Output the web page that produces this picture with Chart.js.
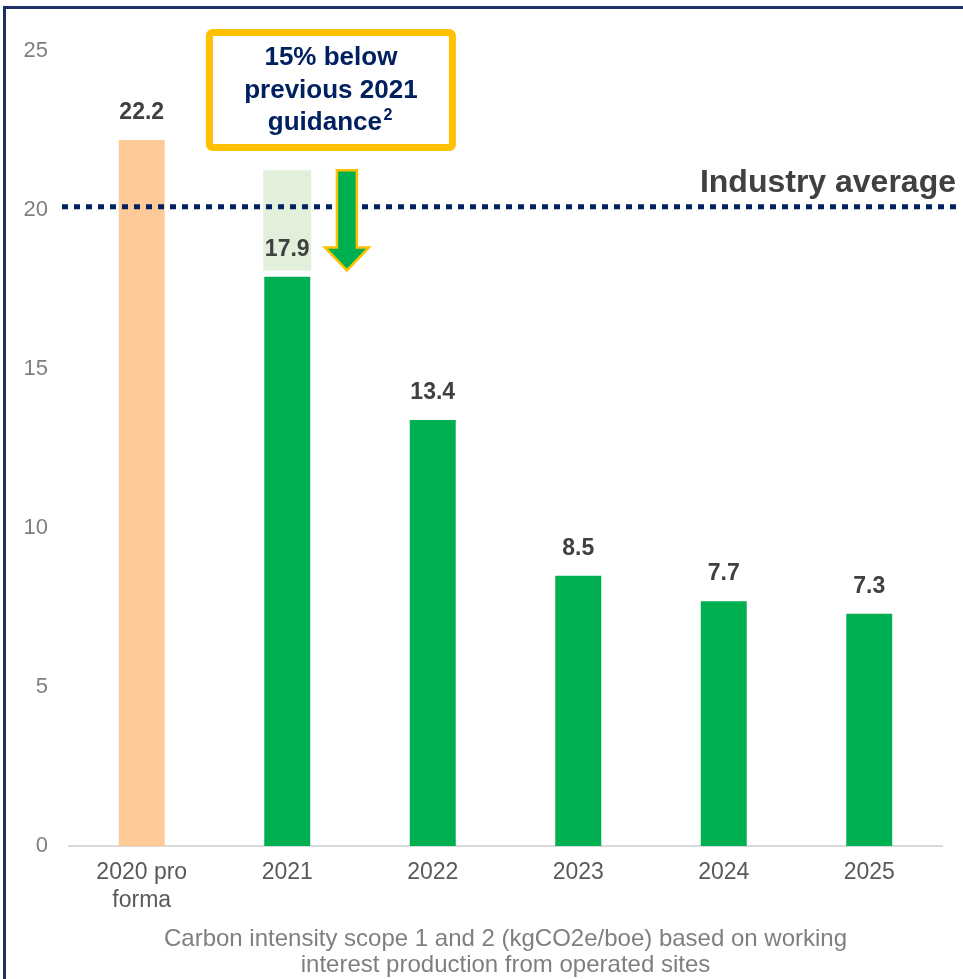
<!DOCTYPE html>
<html>
<head>
<meta charset="utf-8">
<script src="https://cdn.jsdelivr.net/npm/chart.js@4/dist/chart.umd.min.js"></script>
<style>
  body { margin: 0; background: #fff; overflow: hidden; }
  #wrap { position: relative; width: 963px; height: 979px; }
  #frame { position: absolute; left: 3px; top: 6px; width: 2000px; height: 2000px;
           border-top: 3px solid #1c2f66; border-left: 3px solid #1c2f66; pointer-events: none; }
</style>
</head>
<body>
<div id="wrap">
  <canvas id="myChart" width="963" height="979"></canvas>
  <div id="frame"></div>
</div>
<script>
var categories = [['2020 pro', 'forma'], '2021', '2022', '2023', '2024', '2025'];
var intensity = [22.2, 17.9, 13.4, 8.5, 7.7, 7.3];
var barColors = ['#fecb98', '#00b050', '#00b050', '#00b050', '#00b050', '#00b050'];
var previousGuidance = [null, [18.1, 21.25], null, null, null, null];
var industryAverage = 20.1;
var yTicks = [0, 5, 10, 15, 20, 25];
var calloutLines = ['15% below', 'previous 2021', 'guidance'];
var axisTitle = ['Carbon intensity scope 1 and 2 (kgCO2e/boe) based on working',
                 'interest production from operated sites'];

var FONT = "'Liberation Sans', Arial, sans-serif";

function dottedLine(chart) {
    var c = chart.ctx, y = chart.scales.y.getPixelForValue(industryAverage);
    c.save();
    c.strokeStyle = '#002060';
    c.lineWidth = 5;
    c.setLineDash([6, 6]);
    c.beginPath();
    c.moveTo(62, y);
    c.lineTo(960, y);
    c.stroke();
    c.restore();
    return y;
}

var overlay = {
    id: 'overlay',
    afterDatasetsDraw: function (chart) {
        var c = chart.ctx, xs = chart.scales.x, ys = chart.scales.y, area = chart.chartArea;
        var yl = dottedLine(chart);
        c.save();

        c.fillStyle = '#404040';
        c.font = 'bold 32px ' + FONT;
        c.textAlign = 'right';
        c.textBaseline = 'alphabetic';
        c.fillText('Industry average', 956, yl - 15);

        // value labels
        c.font = 'bold 23px ' + FONT;
        c.textAlign = 'center';
        c.textBaseline = 'middle';
        c.fillStyle = '#404040';
        chart.getDatasetMeta(1).data.forEach(function (bar, i) {
            c.fillText(intensity[i].toFixed(1), bar.x, bar.y - 27);
        });

        // arrow showing the cut vs guidance
        var ax = xs.getPixelForValue(1.41);
        var top = ys.getPixelForValue(previousGuidance[1][1]);
        var bot = ys.getPixelForValue(previousGuidance[1][0]);
        c.beginPath();
        c.moveTo(ax - 10, top);
        c.lineTo(ax + 10, top);
        c.lineTo(ax + 10, bot - 23);
        c.lineTo(ax + 22, bot - 23);
        c.lineTo(ax, bot);
        c.lineTo(ax - 22, bot - 23);
        c.lineTo(ax - 10, bot - 23);
        c.closePath();
        c.fillStyle = '#00b050';
        c.fill();
        c.strokeStyle = '#ffc000';
        c.lineWidth = 2.5;
        c.stroke();

        // callout box
        var bx = xs.getPixelForValue(1.3);
        var bw = 243, bh = 115, btop = area.top - 18.5;
        c.strokeStyle = '#ffc000';
        c.lineWidth = 7;
        c.beginPath();
        c.roundRect(bx - bw / 2, btop, bw, bh, 3);
        c.fillStyle = '#ffffff';
        c.fill();
        c.stroke();

        c.fillStyle = '#002060';
        c.font = 'bold 26px ' + FONT;
        c.textAlign = 'center';
        c.fillText(calloutLines[0], bx, btop + 25);
        c.fillText(calloutLines[1], bx, btop + 58);
        var w3 = c.measureText(calloutLines[2]).width;
        c.fillText(calloutLines[2], bx - 6, btop + 90);
        c.font = 'bold 16px ' + FONT;
        c.fillText('2', bx - 6 + w3 / 2 + 6, btop + 83);

        c.restore();
    }
};

var ctx = document.getElementById('myChart').getContext('2d');
var myBarChart = new Chart(ctx, {
    type: 'bar',
    data: {
        labels: categories,
        datasets: [{
            label: 'Previous guidance',
            data: previousGuidance,
            backgroundColor: '#e2efda',
            barPercentage: 0.33,
            categoryPercentage: 1,
            grouped: false,
            order: 2
        }, {
            label: 'Carbon intensity',
            data: intensity,
            backgroundColor: barColors,
            barPercentage: 0.316,
            categoryPercentage: 1,
            grouped: false,
            order: 1
        }]
    },
    options: {
        responsive: false,
        animation: false,
        devicePixelRatio: 1,
        layout: {
            padding: { left: 0, top: 51, right: 21, bottom: 0 }
        },
        plugins: {
            legend: { display: false },
            tooltip: { enabled: false }
        },
        scales: {
            x: {
                grid: { display: false, drawTicks: false },
                border: { display: true, color: '#d9d9d9', width: 2 },
                ticks: {
                    color: '#595959',
                    font: { family: FONT, size: 23, lineHeight: 1.2 },
                    padding: 13,
                    maxRotation: 0
                },
                title: {
                    display: true,
                    text: axisTitle,
                    color: '#7f7f7f',
                    font: { family: FONT, size: 24, lineHeight: 1.08 },
                    padding: { top: 4, bottom: 1 }
                },
                afterFit: function (scale) { scale.height = 133; }
            },
            y: {
                min: 0,
                max: 25,
                afterBuildTicks: function (scale) {
                    scale.ticks = yTicks.map(function (v) { return { value: v }; });
                },
                grid: { display: false, drawTicks: false },
                border: { display: false },
                ticks: {
                    color: '#7f7f7f',
                    font: { family: FONT, size: 22 },
                    padding: 21
                },
                afterFit: function (scale) { scale.width = 69; }
            }
        }
    },
    plugins: [overlay]
});
</script>
</body>
</html>
